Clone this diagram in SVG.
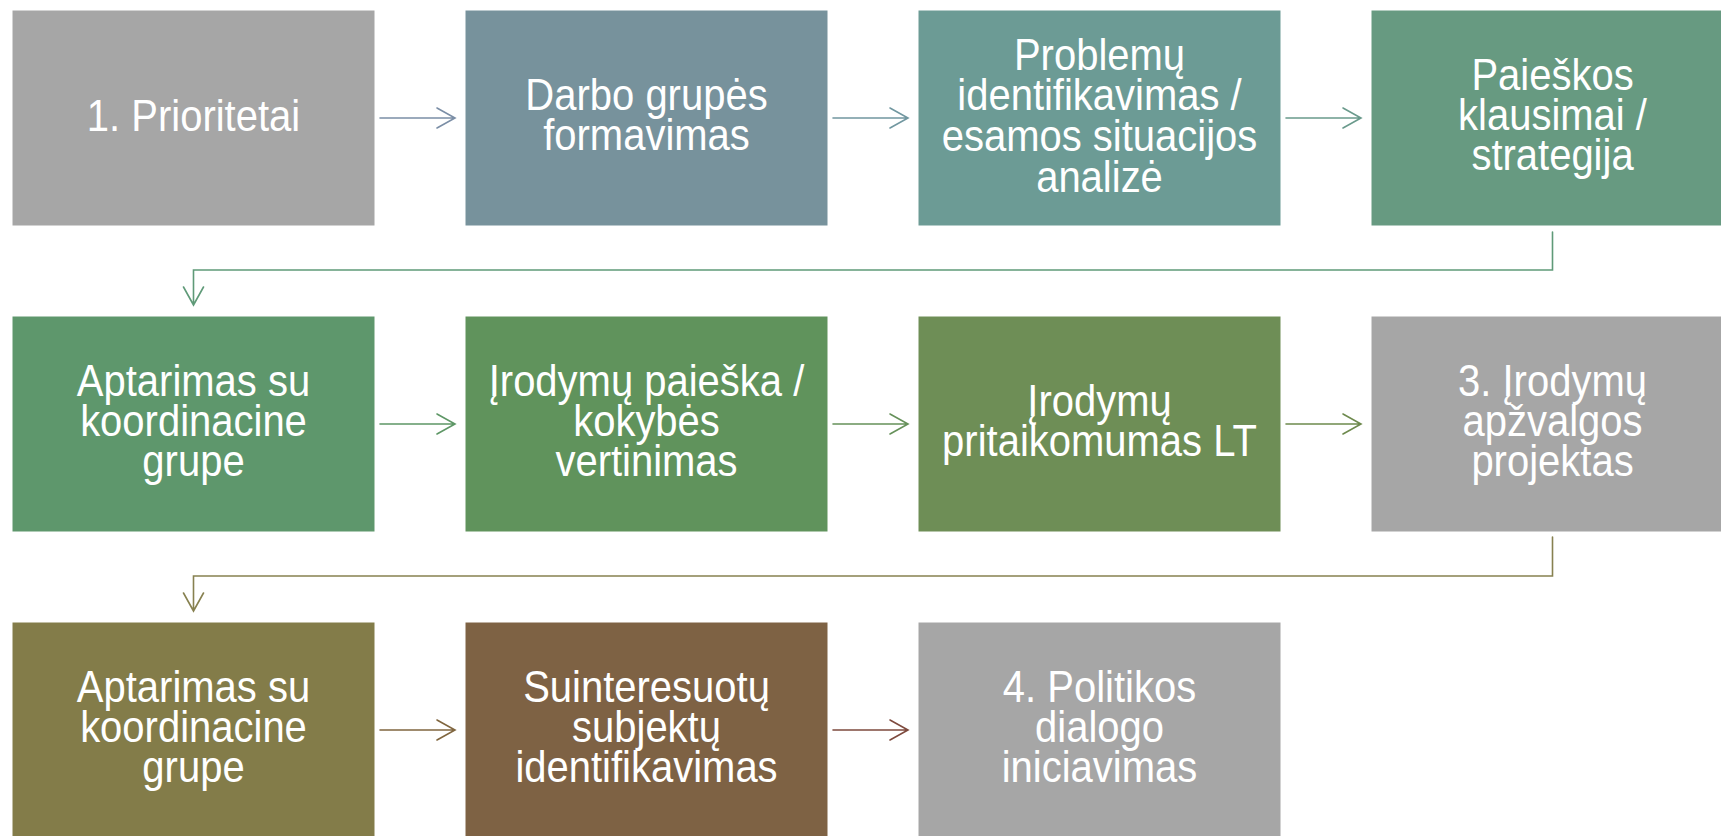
<svg xmlns="http://www.w3.org/2000/svg" width="1721" height="836" viewBox="0 0 1721 836">
<style>
  .box { stroke: #ffffff; stroke-width: 1; }
  .t { font-family: "Liberation Sans", Arial, sans-serif; font-size: 40px; fill: #ffffff; text-anchor: middle; }
  .c { fill: none; stroke-width: 1.6; stroke-linecap: round; stroke-linejoin: miter; }
</style>
<rect x="0" y="0" width="1721" height="836" fill="#ffffff"/>
<g id="connectors">
  <path class="c" stroke="#7b8ea6" d="M380,118 H455 M437,108 L455,118 L437,128"/>
  <path class="c" stroke="#7197a0" d="M833,118 H908 M890,108 L908,118 L890,128"/>
  <path class="c" stroke="#6a9a8c" d="M1286,118 H1361 M1343,108 L1361,118 L1343,128"/>
  <path class="c" stroke="#5f9a78" d="M1552.5,232 V270 H193.5 V305 M183.5,287 L193.5,305 L203.5,287"/>
  <path class="c" stroke="#5e9766" d="M380,424 H455 M437,414 L455,424 L437,434"/>
  <path class="c" stroke="#66915a" d="M833,424 H908 M890,414 L908,424 L890,434"/>
  <path class="c" stroke="#6e8a4e" d="M1286,424 H1361 M1343,414 L1361,424 L1343,434"/>
  <path class="c" stroke="#878150" d="M1552.5,537 V576 H193.5 V611 M183.5,593 L193.5,611 L203.5,593"/>
  <path class="c" stroke="#80663f" d="M380,730 H455 M437,720 L455,730 L437,740"/>
  <path class="c" stroke="#7e4a3e" d="M833,730 H908 M890,720 L908,730 L890,740"/>
</g>
<g id="n1"><rect class="box" x="12" y="10" width="363" height="216" fill="#a6a6a6"/>
  <g transform="translate(193.5,118) scale(1,1.1)"><text class="t" x="0" y="11.8">1. Prioritetai</text></g></g>
<g id="n2"><rect class="box" x="465" y="10" width="363" height="216" fill="#77929c"/>
  <g transform="translate(646.5,118) scale(1,1.1)"><text class="t" x="0" y="-7.3">Darbo grupės</text><text class="t" x="0" y="29.1">formavimas</text></g></g>
<g id="n3"><rect class="box" x="918" y="10" width="363" height="216" fill="#6c9b95"/>
  <g transform="translate(1099.5,118) scale(1,1.1)"><text class="t" x="0" y="-43.6">Problemų</text><text class="t" x="0" y="-7.3">identifikavimas /</text>
  <text class="t" x="0" y="30">esamos situacijos</text><text class="t" x="0" y="67.3">analizė</text></g></g>
<g id="n4"><rect class="box" x="1371" y="10" width="363" height="216" fill="#679a81"/>
  <g transform="translate(1552.5,118) scale(1,1.1)"><text class="t" x="0" y="-25.5">Paieškos</text><text class="t" x="0" y="10.9">klausimai /</text><text class="t" x="0" y="47.3">strategija</text></g></g>
<g id="n5"><rect class="box" x="12" y="316" width="363" height="216" fill="#5e976c"/>
  <g transform="translate(193.5,424) scale(1,1.1)"><text class="t" x="0" y="-25.5">Aptarimas su</text><text class="t" x="0" y="10.9">koordinacine</text><text class="t" x="0" y="47.3">grupe</text></g></g>
<g id="n6"><rect class="box" x="465" y="316" width="363" height="216" fill="#60935c"/>
  <g transform="translate(646.5,424) scale(1,1.1)"><text class="t" x="0" y="-25.5">Įrodymų paieška /</text><text class="t" x="0" y="10.9">kokybės</text><text class="t" x="0" y="47.3">vertinimas</text></g></g>
<g id="n7"><rect class="box" x="918" y="316" width="363" height="216" fill="#6e8e56"/>
  <g transform="translate(1099.5,424) scale(1,1.1)"><text class="t" x="0" y="-7.3">Įrodymų</text><text class="t" x="0" y="29.1">pritaikomumas LT</text></g></g>
<g id="n8"><rect class="box" x="1371" y="316" width="363" height="216" fill="#a6a6a6"/>
  <g transform="translate(1552.5,424) scale(1,1.1)"><text class="t" x="0" y="-25.5">3. Įrodymų</text><text class="t" x="0" y="10.9">apžvalgos</text><text class="t" x="0" y="47.3">projektas</text></g></g>
<g id="n9"><rect class="box" x="12" y="622" width="363" height="216" fill="#837c49"/>
  <g transform="translate(193.5,730) scale(1,1.1)"><text class="t" x="0" y="-25.5">Aptarimas su</text><text class="t" x="0" y="10.9">koordinacine</text><text class="t" x="0" y="47.3">grupe</text></g></g>
<g id="n10"><rect class="box" x="465" y="622" width="363" height="216" fill="#7e6244"/>
  <g transform="translate(646.5,730) scale(1,1.1)"><text class="t" x="0" y="-25.5">Suinteresuotų</text><text class="t" x="0" y="10.9">subjektų</text><text class="t" x="0" y="47.3">identifikavimas</text></g></g>
<g id="n11"><rect class="box" x="918" y="622" width="363" height="216" fill="#a6a6a6"/>
  <g transform="translate(1099.5,730) scale(1,1.1)"><text class="t" x="0" y="-25.5">4. Politikos</text><text class="t" x="0" y="10.9">dialogo</text><text class="t" x="0" y="47.3">iniciavimas</text></g></g>
</svg>
